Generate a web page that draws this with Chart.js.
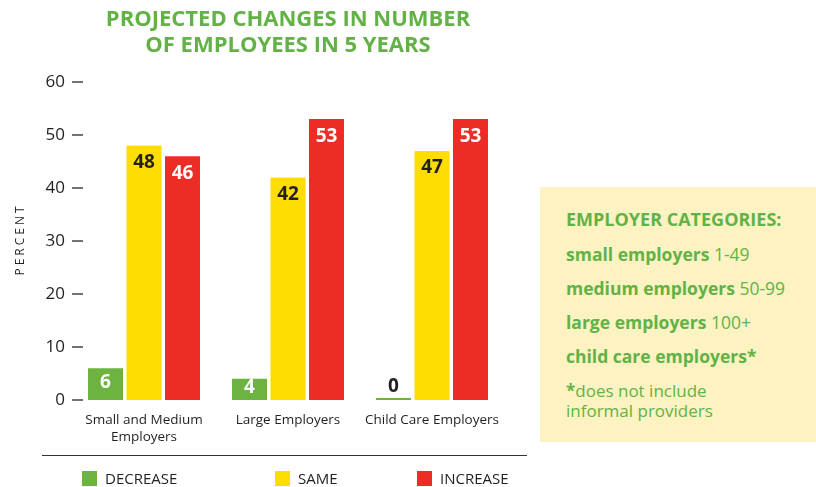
<!DOCTYPE html>
<html>
<head>
<meta charset="utf-8">
<script src="https://cdn.jsdelivr.net/npm/chart.js@4.4.1/dist/chart.umd.min.js"></script>
<style>
  html, body { margin: 0; padding: 0; background: #fff; overflow: hidden; }
  body { width: 816px; height: 487px; position: relative; font-family: "Open Sans", sans-serif; }
  #wrap { position: absolute; left: 0; top: 0; width: 576px; height: 487px; }
  #rule { position: absolute; left: 42px; top: 455px; width: 485px; height: 0; border-top: 1.3px solid #333; }
  #legend .item { position: absolute; top: 468px; display: flex; align-items: center; font-size: 15px; color: #231f20; }
  #legend .box { width: 15px; height: 15px; margin-right: 8px; }
  #info { position: absolute; left: 540px; top: 187px; width: 276px; height: 255px; background: #fdf2c2; color: #62b246; }
  #info .row { position: absolute; left: 26px; white-space: nowrap; font-size: 17.5px; line-height: 34px; }
  #info b { font-weight: 700; }
  #info .head { font-size: 18px; font-weight: 700; }
  #info .note { font-size: 17px; line-height: 20px; }
</style>
</head>
<body>
<div id="wrap"><canvas id="chart"></canvas></div>
<div id="rule"></div>
<div id="legend"></div>
<div id="info">
  <div class="row head" style="top:15px">EMPLOYER CATEGORIES:</div>
  <div class="row" style="top:50px"><b>small employers</b> 1-49</div>
  <div class="row" style="top:84px"><b>medium employers</b> 50-99</div>
  <div class="row" style="top:118px"><b>large employers</b> 100+</div>
  <div class="row" style="top:152px"><b>child care employers*</b></div>
  <div class="row note" style="top:194px"><b>*</b>does not include<br>informal providers</div>
</div>
<script>
const categories = [["Small and Medium", "Employers"], "Large Employers", "Child Care Employers"];
const seriesNames = ["DECREASE", "SAME", "INCREASE"];
const decrease = [6, 4, 0];
const same = [48, 42, 47];
const increase = [46, 53, 53];
const yTicks = [0, 10, 20, 30, 40, 50, 60];

const colors = ["#6db33f", "#ffdd00", "#ee2c26"];
const labelColors = ["#fff", "#231f20", "#fff"];
const legendLeft = [82, 275, 417];
const ink = "#231f20";

// value labels inside the top of each bar
const barLabels = {
  id: "barLabels",
  afterDatasetsDraw(chart) {
    const ctx = chart.ctx;
    ctx.save();
    ctx.font = "bold 19px 'Open Sans'";
    ctx.textAlign = "center";
    ctx.textBaseline = "middle";
    chart.data.datasets.forEach((ds, di) => {
      chart.getDatasetMeta(di).data.forEach((bar, i) => {
        const v = ds.data[i];
        let y;
        if (v === 0) {
          y = bar.base - 13;
          ctx.fillStyle = ink;
        } else {
          y = Math.min(bar.y + 17, (bar.y + bar.base) / 2 - 1.5);
          ctx.fillStyle = labelColors[di];
        }
        ctx.fillText(String(v), bar.x, y);
      });
    });
    ctx.restore();
  }
};

// short dashes next to the y tick labels and the rotated axis title
const yDecor = {
  id: "yDecor",
  afterDraw(chart) {
    const ctx = chart.ctx;
    const y = chart.scales.y;
    const left = chart.chartArea.left;
    ctx.save();
    ctx.strokeStyle = "#444";
    ctx.lineWidth = 1.5;
    y.ticks.forEach(t => {
      const py = y.getPixelForValue(t.value);
      ctx.beginPath();
      ctx.moveTo(left, py);
      ctx.lineTo(left + 11, py);
      ctx.stroke();
    });
    ctx.translate(21, (chart.chartArea.top + chart.chartArea.bottom) / 2);
    ctx.rotate(-Math.PI / 2);
    ctx.font = "12px 'Open Sans'";
    ctx.letterSpacing = "3px";
    ctx.fillStyle = ink;
    ctx.textAlign = "center";
    ctx.textBaseline = "middle";
    ctx.fillText("PERCENT", 1.5, 0);
    ctx.restore();
  }
};

const chart = new Chart(document.getElementById("chart"), {
  type: "bar",
  data: {
    labels: categories,
    datasets: [decrease, same, increase].map((d, i) => ({
      label: seriesNames[i],
      data: d,
      backgroundColor: colors[i],
      borderWidth: 0,
      minBarLength: 2,
      categoryPercentage: 0.802,
      barPercentage: 0.909
    }))
  },
  options: {
    responsive: true,
    maintainAspectRatio: false,
    animation: false,
    layout: { padding: 0 },
    plugins: {
      legend: { display: false },
      tooltip: { enabled: false },
      title: {
        display: true,
        text: ["PROJECTED CHANGES IN NUMBER", "OF EMPLOYEES IN 5 YEARS"],
        color: "#62b246",
        font: { family: "'Open Sans'", size: 22, weight: "bold", lineHeight: 26 / 22 },
        padding: { top: 7, bottom: 23 }
      }
    },
    scales: {
      x: {
        grid: { display: false, drawTicks: false },
        border: { display: false },
        ticks: {
          color: ink,
          font: { family: "'Open Sans'", size: 13.5, lineHeight: 17 / 13.5 },
          padding: 12,
          maxRotation: 0,
          autoSkip: false
        },
        afterFit(s) { s.height = 87; }
      },
      y: {
        min: yTicks[0],
        max: yTicks[yTicks.length - 1],
        grid: { display: false, drawTicks: false },
        border: { display: false },
        afterBuildTicks(s) { s.ticks = yTicks.map(v => ({ value: v })); },
        ticks: {
          color: ink,
          font: { family: "'Open Sans'", size: 17 },
          padding: 7
        },
        afterFit(s) { s.width = 72; }
      },
      // empty right-hand axis: balances the left one so the title sits over the plot
      spacer: {
        type: "linear",
        position: "right",
        grid: { display: false, drawTicks: false },
        border: { display: false },
        ticks: { display: false },
        afterFit(s) { s.width = 72; }
      }
    }
  },
  plugins: [barLabels, yDecor]
});

// html legend built from the chart's own legend items
const legendEl = document.getElementById("legend");
Chart.defaults.plugins.legend.labels.generateLabels(chart).forEach((it, i) => {
  const item = document.createElement("div");
  item.className = "item";
  item.style.left = legendLeft[i] + "px";
  const box = document.createElement("span");
  box.className = "box";
  box.style.background = it.fillStyle;
  item.appendChild(box);
  item.appendChild(document.createTextNode(it.text));
  legendEl.appendChild(item);
});
</script>
</body>
</html>
